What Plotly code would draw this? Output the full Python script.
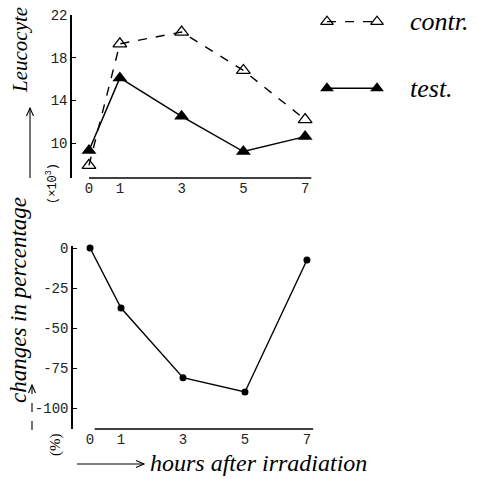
import plotly.graph_objects as go

W, H = 478, 484

# ---- data ----
hours = [0, 1, 3, 5, 7]
contr = [7.9, 19.3, 20.4, 16.8, 12.2]
test = [9.3, 16.1, 12.5, 9.2, 10.6]
change_pct = [0, -37.5, -81, -90, -7.5]

top_yticks = [10, 14, 18, 22]
bot_yticks = [0, -25, -50, -75, -100]
bot_yticklabels = ["0", "-25", "-50", "-75", "-100"]
x_ticks = [0, 1, 3, 5, 7]

legend_x = [0, 1]
legend_contr_y = [0.87, 0.87]
legend_test_y = [0.13, 0.13]


def px(x):
    return x / W


def py(y):
    return 1 - y / H


tick_font = dict(family="Liberation Mono, Courier New, monospace", size=14, color="#222")

fig = go.Figure()

# top panel
fig.add_trace(go.Scatter(x=hours, y=contr, mode="lines+markers", xaxis="x", yaxis="y",
                         line=dict(color="black", width=1.4, dash="dash"),
                         marker=dict(symbol="triangle-up-open", size=12, color="black",
                                     line=dict(width=1.3)),
                         cliponaxis=False, showlegend=False))
fig.add_trace(go.Scatter(x=hours, y=test, mode="lines+markers", xaxis="x", yaxis="y",
                         line=dict(color="black", width=1.5),
                         marker=dict(symbol="triangle-up", size=13, color="black"),
                         cliponaxis=False, showlegend=False))
# bottom panel
fig.add_trace(go.Scatter(x=hours, y=change_pct, mode="lines+markers", xaxis="x2", yaxis="y2",
                         line=dict(color="black", width=1.4),
                         marker=dict(symbol="circle", size=7, color="black"),
                         cliponaxis=False, showlegend=False))
# legend samples
fig.add_trace(go.Scatter(x=legend_x, y=legend_contr_y, mode="lines+markers", xaxis="x3", yaxis="y3",
                         line=dict(color="black", width=1.3, dash="dash"),
                         marker=dict(symbol="triangle-up-open", size=11, color="black",
                                     line=dict(width=1.3)),
                         cliponaxis=False, showlegend=False))
fig.add_trace(go.Scatter(x=legend_x, y=legend_test_y, mode="lines+markers", xaxis="x3", yaxis="y3",
                         line=dict(color="black", width=1.6),
                         marker=dict(symbol="triangle-up", size=12, color="black"),
                         cliponaxis=False, showlegend=False))

common_x = dict(tickvals=x_ticks, ticktext=[str(v) for v in x_ticks], showgrid=False,
                zeroline=False, showline=False, ticks="", tickfont=tick_font, automargin=False)

fig.update_layout(
    template="none",
    width=W, height=H,
    margin=dict(l=0, r=0, t=0, b=0, pad=0, autoexpand=False),
    showlegend=False,
    paper_bgcolor="white", plot_bgcolor="white",
    xaxis=dict(domain=[px(72), px(315)], range=[-0.55, 7.32], anchor="y", **common_x),
    yaxis=dict(domain=[py(178), py(15)], range=[6.72, 22], anchor="x",
               tickvals=top_yticks, showgrid=False, zeroline=False, automargin=False,
               showline=True, linecolor="black", linewidth=1.5,
               ticks="inside", ticklen=4, tickcolor="black", tickfont=tick_font),
    xaxis2=dict(domain=[px(73), px(315)], range=[-0.55, 7.26], anchor="y2", **common_x),
    yaxis2=dict(domain=[py(429), py(246)], range=[-113.1, 1.25], anchor="x2",
                tickvals=bot_yticks, ticktext=bot_yticklabels, showgrid=False, zeroline=False,
                automargin=False,
                showline=True, linecolor="black", linewidth=1.5,
                ticks="inside", ticklen=4, tickcolor="black", tickfont=tick_font),
    xaxis3=dict(domain=[px(327), px(377)], range=[0, 1], anchor="y3", visible=False, automargin=False),
    yaxis3=dict(domain=[py(100), py(10)], range=[0, 1], anchor="x3", visible=False, automargin=False),
)

# x-axis baselines (hand-drawn style, detached from y-axis)
fig.add_shape(type="line", xref="x", yref="y domain", x0=0.0, x1=7.2, y0=0, y1=0,
              line=dict(color="black", width=1.5))
fig.add_shape(type="line", xref="x2", yref="y2 domain", x0=0.15, x1=7.2, y0=0, y1=0,
              line=dict(color="black", width=1.5))


# arrows drawn as paper-space shapes
def arrow(x0, y0, x1, y1, dash="solid"):
    fig.add_shape(type="line", xref="paper", yref="paper",
                  x0=px(x0), y0=py(y0), x1=px(x1), y1=py(y1),
                  line=dict(color="black", width=1.1, dash=dash))
    if x0 == x1:  # vertical, pointing up
        path = f"M {px(x1-3.5)},{py(y1+8)} L {px(x1)},{py(y1)} L {px(x1+3.5)},{py(y1+8)}"
    else:  # horizontal, pointing right
        path = f"M {px(x1-8)},{py(y1-3.5)} L {px(x1)},{py(y1)} L {px(x1-8)},{py(y1+3.5)}"
    fig.add_shape(type="path", xref="paper", yref="paper", path=path,
                  line=dict(color="black", width=1.1))


arrow(30, 178, 30, 108)
arrow(32, 430, 32, 385, dash="dash")
arrow(77, 464, 144, 464)


def note(text, x, y, size=19, angle=0, xanchor="center", family="Liberation Serif, serif"):
    return dict(text=text, x=px(x), y=py(y), xref="paper", yref="paper",
                xanchor=xanchor, yanchor="middle", textangle=angle, showarrow=False,
                font=dict(family=family, size=size, color="black"))


ann = [
    note("<i>Leucocyte</i>", 20, 50, size=21, angle=-90),
    note("(×10<sup>3</sup>)", 52, 184, size=12, angle=-90, family="Liberation Mono, monospace"),
    note("<i>changes in percentage</i>", 18, 300, size=23, angle=-90),
    note("(%)", 55, 445, size=15, angle=-90),
    note("<i>hours after irradiation</i>", 148, 463, size=24, xanchor="left"),
    note("<i>contr.</i>", 408, 22, size=26, xanchor="left"),
    note("<i>test.</i>", 408, 88, size=26, xanchor="left"),
]
fig.update_layout(annotations=ann)

fig.write_html("out.html")
